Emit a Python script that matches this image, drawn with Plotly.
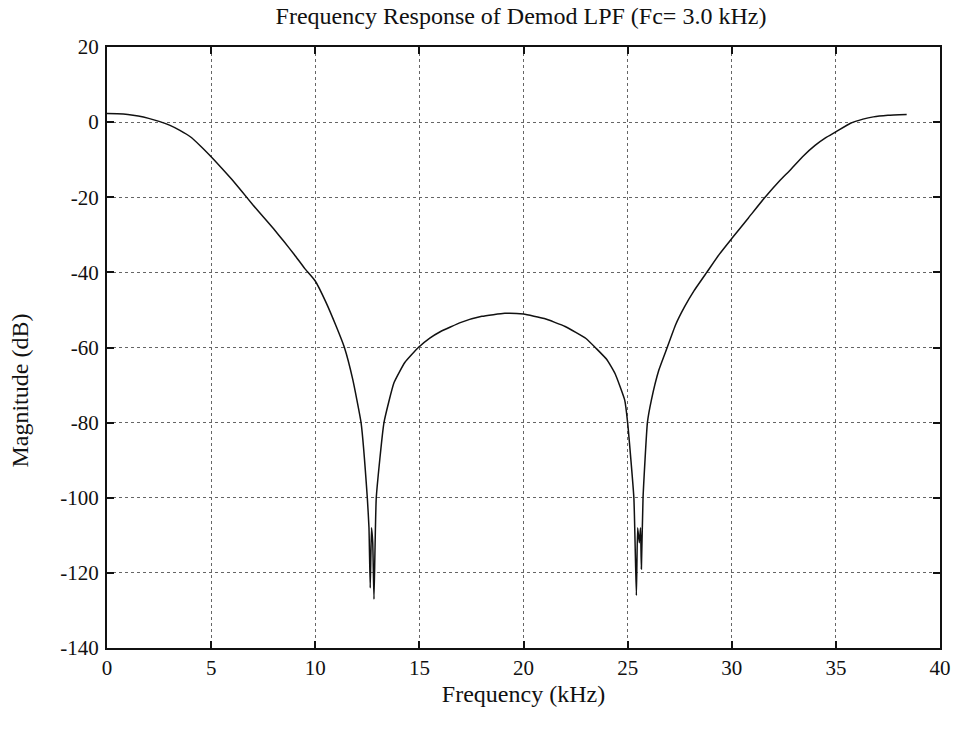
import plotly.graph_objects as go

# Frequency (kHz) and magnitude (dB)
freq_khz = [0, 0.5, 1, 1.5, 2, 2.5, 3, 3.5, 4, 4.5, 5, 5.5, 6, 6.5, 7, 7.5, 8, 8.5, 9, 9.5,
            10, 10.5, 11, 11.4, 11.8, 12.2, 12.5, 12.58, 12.64, 12.7, 12.76, 12.82, 12.93,
            13.3, 13.78, 14.3, 14.95, 15.5, 16, 17, 18, 19.1, 20, 21, 22, 23, 23.5, 24, 24.4,
            24.86, 25.0, 25.3, 25.42, 25.48, 25.56, 25.62, 25.66, 25.74, 25.95, 26.14, 26.5,
            26.9, 27.3, 27.73, 28.2, 28.8, 29.4, 30, 30.8, 31.6, 32.3, 32.8, 33.4, 34, 34.5,
            35, 35.7, 36.3, 36.8, 37.5, 38.4]
mag_db = [2.3, 2.2, 2.0, 1.6, 1.0, 0.2, -0.8, -2.2, -3.9, -6.4, -9.2, -12.2, -15.3, -18.6,
          -22.0, -25.2, -28.4, -31.8, -35.3, -39.0, -42.3, -47.8, -54.3, -60.0, -68.5, -80.0,
          -100.0, -108.0, -124.0, -108.0, -112.0, -127.0, -100.0,
          -80.0, -69.4, -64.0, -60.0, -57.5, -55.8, -53.3, -51.7, -50.9, -51.1, -52.3, -54.4,
          -57.6, -60.3, -63.2, -67.0,
          -74.0, -80.0, -100.0, -126.0, -108.0, -112.0, -108.0, -119.0, -100.0, -80.0, -74.0,
          -66.0, -60.0, -54.0, -49.2, -44.8, -40.0, -35.2, -31.0, -25.5, -20.0, -15.6, -12.8,
          -9.2, -6.2, -4.2, -2.6, -0.3, 0.8, 1.4, 1.8, 2.05]

x_ticks = [0, 5, 10, 15, 20, 25, 30, 35, 40]
y_ticks = [20, 0, -20, -40, -60, -80, -100, -120, -140]

title_text = "Frequency Response of Demod LPF (Fc= 3.0 kHz)"
x_label = "Frequency (kHz)"
y_label = "Magnitude (dB)"

serif = "Liberation Serif, Times New Roman, serif"
ink = "#111111"

fig = go.Figure()
fig.add_trace(go.Scatter(x=freq_khz, y=mag_db, mode="lines",
                         line=dict(color=ink, width=1.5, shape="spline", smoothing=0.4),
                         showlegend=False))

axis_common = dict(
    showline=True, linecolor=ink, linewidth=2, mirror="ticks",
    ticks="inside", ticklen=7, tickwidth=2, tickcolor=ink,
    showgrid=True, gridcolor="#666666", griddash="dot", gridwidth=1,
    zeroline=False, tickfont=dict(family=serif, size=21, color=ink),
)

fig.update_layout(
    width=963, height=735,
    margin=dict(l=107, r=20, t=47, b=87),
    paper_bgcolor="white", plot_bgcolor="white",
    title=dict(text=title_text, x=0.541, xanchor="center", y=0.979, yanchor="middle",
               yref="container", font=dict(family=serif, size=24, color=ink)),
    xaxis=dict(range=[0, 40], tickvals=x_ticks, ticktext=[str(v) for v in x_ticks],
               title=dict(text=x_label, font=dict(family=serif, size=24, color=ink),
                          standoff=6),
               **axis_common),
    yaxis=dict(range=[-140, 20], tickvals=y_ticks, ticktext=[str(v) for v in y_ticks],
               ticklabelstandoff=2,
               **axis_common),
    annotations=[dict(text=y_label, textangle=-90, xref="paper", yref="paper",
                      x=-0.104, y=0.429, xanchor="center", yanchor="middle",
                      showarrow=False, font=dict(family=serif, size=24, color=ink))],
)

fig.write_html("out.html")
